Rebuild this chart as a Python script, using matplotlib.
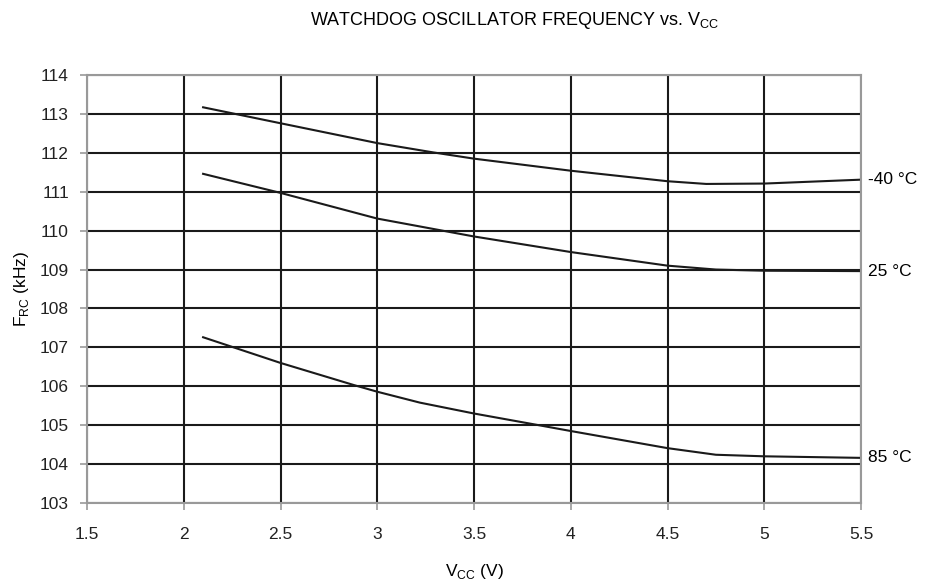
import matplotlib
matplotlib.use("Agg")
import matplotlib.pyplot as plt
import numpy as np

plt.rcParams['font.family'] = ['Liberation Sans', 'DejaVu Sans']

# values
vcc_m40 = [2.1, 2.5, 3.0, 3.29, 3.5, 4.0, 4.5, 4.7, 5.0, 5.5]
f_m40 = [113.17, 112.76, 112.25, 112.01, 111.85, 111.54, 111.27, 111.2, 111.21, 111.31]
vcc_25 = [2.1, 2.5, 3.0, 3.5, 4.0, 4.5, 4.75, 5.0, 5.5]
f_25 = [111.46, 110.97, 110.31, 109.85, 109.45, 109.1, 109.0, 108.97, 108.96]
vcc_85 = [2.1, 2.5, 2.88, 3.0, 3.22, 3.5, 3.79, 4.0, 4.5, 4.75, 5.0, 5.5]
f_85 = [107.26, 106.6, 106.03, 105.86, 105.58, 105.3, 105.04, 104.85, 104.41, 104.24, 104.2, 104.16]
labels = ['-40 °C', '25 °C', '85 °C']

fig = plt.figure(figsize=(9.25, 5.86), dpi=100)
ax = fig.add_axes([87/925, 1 - 503/586, (861 - 87)/925, (503 - 75)/586])

for xs, ys, lab in zip([vcc_m40, vcc_25, vcc_85], [f_m40, f_25, f_85], labels):
    ax.plot(xs, ys, color='#1a1a1a', lw=1.5, solid_joinstyle='round')
    ax.annotate(lab, xy=(1, ys[-1]), xycoords=('axes fraction', 'data'),
                xytext=(5, 0), textcoords='offset points', va='center', ha='left', fontsize=12.5)

ax.set_xlim(1.5, 5.5)
ax.set_ylim(103, 114)
ax.set_xticks(np.arange(1.5, 5.51, 0.5))
ax.set_xticklabels(['1.5', '2', '2.5', '3', '3.5', '4', '4.5', '5', '5.5'])
ax.set_yticks(range(103, 115))
ax.grid(True, color='#1a1a1a', lw=1.5)
ax.set_axisbelow(True)
for s in ax.spines.values():
    s.set_color('#999999')
    s.set_linewidth(1.5)
ax.tick_params(colors='#999999', labelcolor='#222222', labelsize=12.5, length=5, width=1.2, direction='out')
ax.tick_params(axis='x', pad=12)
ax.tick_params(axis='y', pad=8)

ax.set_xlabel('V$_{\\mathregular{CC}}$ (V)', fontsize=12.5, labelpad=15)
ax.set_ylabel('F$_{\\mathregular{RC}}$ (kHz)', fontsize=12.5, labelpad=6)
fig.text(0.556, 0.965, 'WATCHDOG OSCILLATOR FREQUENCY vs. V$_{\\mathregular{CC}}$', ha='center', va='center', fontsize=13)

fig.savefig('out.png', dpi=100)
